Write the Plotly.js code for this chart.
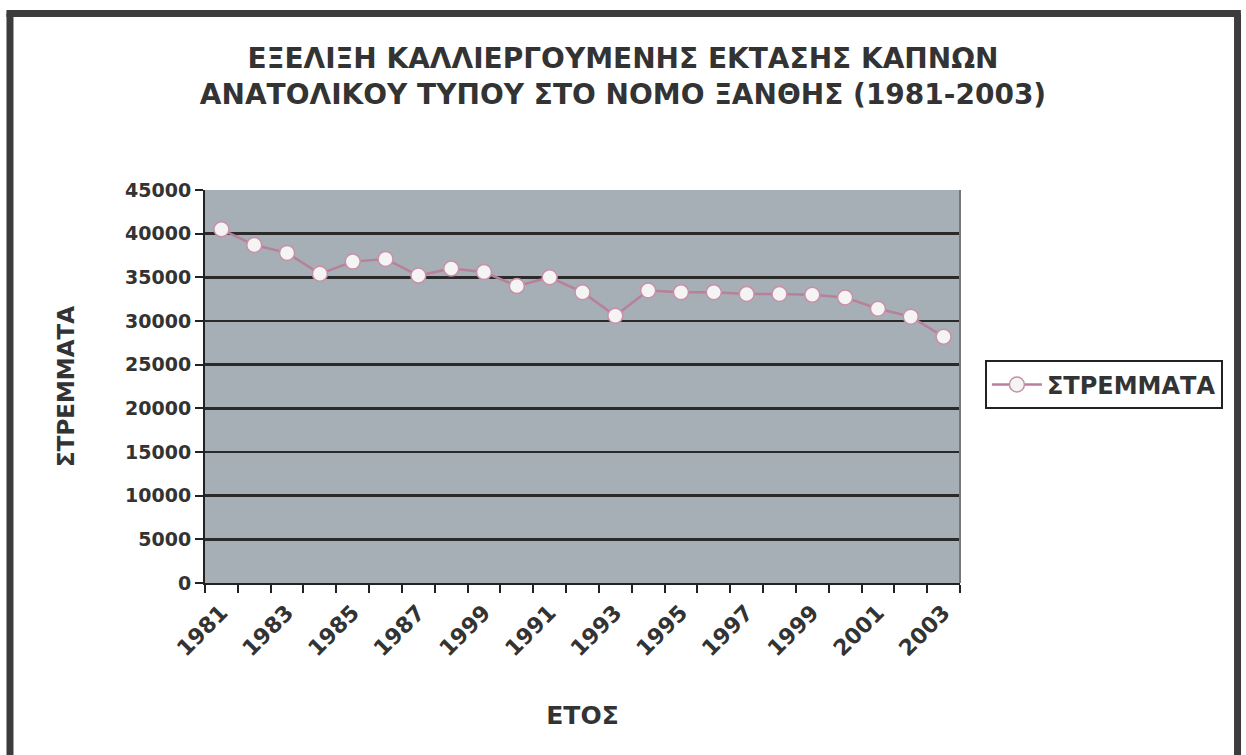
<!DOCTYPE html>
<html>
<head>
<meta charset="utf-8">
<script src="https://cdn.plot.ly/plotly-3.0.1.min.js"></script>
<style>
html,body{margin:0;padding:0;background:#fff;}
#chart{width:1246px;height:755px;}
</style>
</head>
<body>
<div id="chart"></div>
<script>
// Data
const years = [1981,1982,1983,1984,1985,1986,1987,1988,1989,1990,1991,1992,1993,1994,1995,1996,1997,1998,1999,2000,2001,2002,2003];
const stremmata = [40500,38700,37800,35400,36800,37100,35200,36000,35600,34000,35000,33300,30600,33500,33300,33300,33100,33100,33000,32700,31400,30500,28200];
const tickYears = [1981,1983,1985,1987,1989,1991,1993,1995,1997,1999,2001,2003];
const tickLabels = ["1981","1983","1985","1987","1999","1991","1993","1995","1997","1999","2001","2003"];
const seriesName = "ΣΤΡΕΜΜΑΤΑ";
const titleText = "ΕΞΕΛΙΞΗ ΚΑΛΛΙΕΡΓΟΥΜΕΝΗΣ ΕΚΤΑΣΗΣ ΚΑΠΝΩΝ<br>ΑΝΑΤΟΛΙΚΟΥ ΤΥΠΟΥ ΣΤΟ ΝΟΜΟ ΞΑΝΘΗΣ (1981-2003)";

const FONT = "DejaVu Sans, Arial, sans-serif";

const trace = {
  x: years,
  y: stremmata,
  type: 'scatter',
  mode: 'lines+markers',
  name: seriesName,
  line: {color: '#b8809a', width: 2.5},
  marker: {symbol: 'circle', size: 15, color: '#f4f4f4', line: {color: '#c890a8', width: 1.5}}
};

const layout = {
  width: 1246, height: 755,
  paper_bgcolor: '#ffffff',
  plot_bgcolor: '#a6aeb6',
  margin: {l: 205, r: 286, t: 190, b: 172},
  font: {family: FONT, color: '#333333', size: 18},
  title: {
    text: titleText,
    x: 0.5, xref: 'container', xanchor: 'center',
    y: 0.91, yref: 'container', yanchor: 'top',
    font: {family: FONT, size: 28, color: '#333333', weight: 'bold'}
  },
  xaxis: {
    range: [1980.5, 2003.5],
    tickmode: 'array',
    tickvals: tickYears,
    ticktext: tickLabels,
    tickangle: -45,
    ticks: '',
    ticklabelstandoff: 6,
    showgrid: false,
    zeroline: false,
    showline: true, linecolor: '#222222', linewidth: 2,
    tickfont: {family: FONT, size: 22, color: '#333333', weight: 'bold'},
    minor: {tickmode: 'linear', tick0: 0.5, dtick: 1, ticks: 'outside', ticklen: 8, tickwidth: 2, tickcolor: '#222222', showgrid: false},
    title: {text: 'ΕΤΟΣ', standoff: 46, font: {family: FONT, size: 25, color: '#333333', weight: 'bold'}}
  },
  yaxis: {
    range: [0, 45000],
    tickmode: 'linear', tick0: 0, dtick: 5000,
    tickformat: 'd',
    ticks: 'outside', ticklen: 8, tickwidth: 2, tickcolor: '#222222',
    showgrid: true, gridcolor: '#2a2a2a', gridwidth: 2.5,
    zeroline: false,
    showline: true, linecolor: '#222222', linewidth: 2,
    tickfont: {family: FONT, size: 19, color: '#333333', weight: 'bold'},
    title: {text: 'ΣΤΡΕΜΜΑΤΑ', standoff: 44, font: {family: FONT, size: 23, color: '#333333', weight: 'bold'}}
  },
  showlegend: true,
  legend: {
    x: 1.033, xanchor: 'left', y: 0.504, yanchor: 'middle',
    bordercolor: '#222222', borderwidth: 2, bgcolor: '#ffffff',
    itemwidth: 50,
    font: {family: FONT, size: 24, color: '#333333', weight: 'bold'}
  },
  shapes: [
    {type: 'line', xref: 'paper', yref: 'paper', x0: 1, x1: 1, y0: 0, y1: 1, line: {color: '#777777', width: 2}},
    {type: 'line', xref: 'paper', yref: 'paper', x0: -0.2583, x1: -0.2583, y0: -0.48, y1: 1.4491, line: {color: '#3c3c3c', width: 7}},
    {type: 'line', xref: 'paper', yref: 'paper', x0: 1.3676, x1: 1.3676, y0: -0.48, y1: 1.4491, line: {color: '#3c3c3c', width: 7}},
    {type: 'line', xref: 'paper', yref: 'paper', x0: -0.263, x1: 1.372, y0: 1.4491, y1: 1.4491, line: {color: '#3c3c3c', width: 7}}
  ]
};

Plotly.newPlot('chart', [trace], layout, {displayModeBar: false, staticPlot: true});
</script>
</body>
</html>
